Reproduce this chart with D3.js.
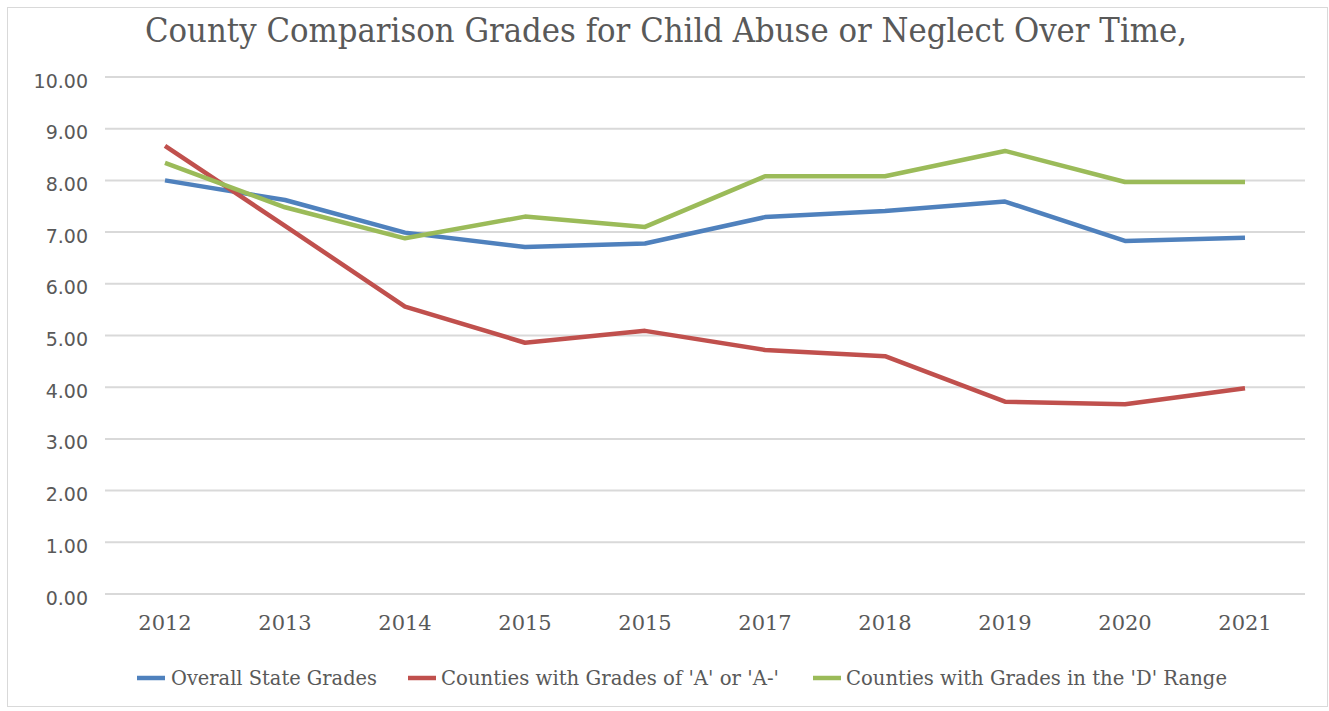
<!DOCTYPE html>
<html>
<head>
<meta charset="utf-8">
<script src="https://cdn.jsdelivr.net/npm/d3@7"></script>
<style>
  html, body { margin: 0; padding: 0; background: #fff; }
  svg { display: block; }
</style>
</head>
<body>
<svg id="chart" width="1329" height="711"></svg>
<script>
const categories = ["2012", "2013", "2014", "2015", "2015", "2017", "2018", "2019", "2020", "2021"];
const overallState = [8.00, 7.62, 6.99, 6.71, 6.78, 7.29, 7.41, 7.59, 6.83, 6.89];
const gradesA = [8.67, 7.12, 5.56, 4.86, 5.09, 4.72, 4.60, 3.72, 3.67, 3.98];
const gradesD = [8.34, 7.48, 6.88, 7.30, 7.10, 8.08, 8.08, 8.57, 7.97, 7.97];
const yTicks = [0, 1, 2, 3, 4, 5, 6, 7, 8, 9, 10];
const seriesNames = ["Overall State Grades", "Counties with Grades of 'A' or 'A-'", "Counties with Grades in the 'D' Range"];
const seriesColors = ["#4f81bd", "#c0504d", "#9bbb59"];
const title = "County Comparison Grades for Child Abuse or Neglect Over Time,";

const series = [overallState, gradesA, gradesD];

const svg = d3.select("#chart");
const W = 1329, H = 711;
const mLeft = 105, mRight = 1305, mTop = 77, mBottom = 594;
const serif = "'DejaVu Serif', 'Liberation Serif', serif";

// border
svg.append("rect").attr("x", 7.5).attr("y", 7.5).attr("width", W - 9).attr("height", H - 12)
  .attr("fill", "#fff").attr("stroke", "#d9d9d9").attr("stroke-width", 1);

const x = d3.scaleBand().domain(d3.range(categories.length)).range([mLeft, mRight]).padding(0);
const y = d3.scaleLinear().domain([0, 10]).range([mBottom, mTop]);

// gridlines
svg.append("g").selectAll("line").data(yTicks).join("line")
  .attr("x1", mLeft).attr("x2", mRight)
  .attr("y1", d => y(d)).attr("y2", d => y(d))
  .attr("stroke", "#d9d9d9").attr("stroke-width", 2);

// y axis labels
const yAxis = d3.axisLeft(y).tickValues(yTicks).tickFormat(d3.format(".2f")).tickSize(0).tickPadding(0);
const gy = svg.append("g").attr("transform", `translate(${88},4)`).call(yAxis);
gy.select(".domain").remove();
gy.selectAll("text").attr("font-family", "'DejaVu Sans', sans-serif")
  .attr("font-size", 19).attr("fill", "#595959");

// x axis labels
const xAxis = d3.axisBottom(x).tickFormat(i => categories[i]).tickSize(0).tickPadding(0);
const gx = svg.append("g").attr("transform", `translate(0,${630})`).call(xAxis);
gx.select(".domain").remove();
gx.selectAll("text").attr("font-family", serif)
  .attr("font-size", 21).attr("fill", "#595959").attr("dy", 0).attr("y", 0);

// lines
const line = d3.line().x((d, i) => x(i) + x.bandwidth() / 2).y(d => y(d));
svg.append("g").selectAll("path").data(series).join("path")
  .attr("d", d => line(d))
  .attr("fill", "none")
  .attr("stroke", (d, i) => seriesColors[i])
  .attr("stroke-width", 4.5)
  .attr("stroke-linejoin", "round")
  .attr("stroke-linecap", "butt");

// title
svg.append("text").attr("x", 666).attr("y", 42).attr("text-anchor", "middle")
  .attr("font-family", serif)
  .attr("font-size", 34).attr("fill", "#595959")
  .attr("textLength", 1042).attr("lengthAdjust", "spacingAndGlyphs")
  .text(title);

// legend
const legendItems = [
  { sx: 137, tx: 171, tw: 206 },
  { sx: 408, tx: 441, tw: 338 },
  { sx: 813, tx: 846, tw: 381 }
];
const lg = svg.append("g");
legendItems.forEach((it, i) => {
  lg.append("line").attr("x1", it.sx).attr("x2", it.sx + 28).attr("y1", 678).attr("y2", 678)
    .attr("stroke", seriesColors[i]).attr("stroke-width", 4.5);
  lg.append("text").attr("x", it.tx).attr("y", 685)
    .attr("font-family", serif)
    .attr("font-size", 21).attr("fill", "#595959")
    .attr("textLength", it.tw).attr("lengthAdjust", "spacingAndGlyphs")
    .text(seriesNames[i]);
});
</script>
</body>
</html>
